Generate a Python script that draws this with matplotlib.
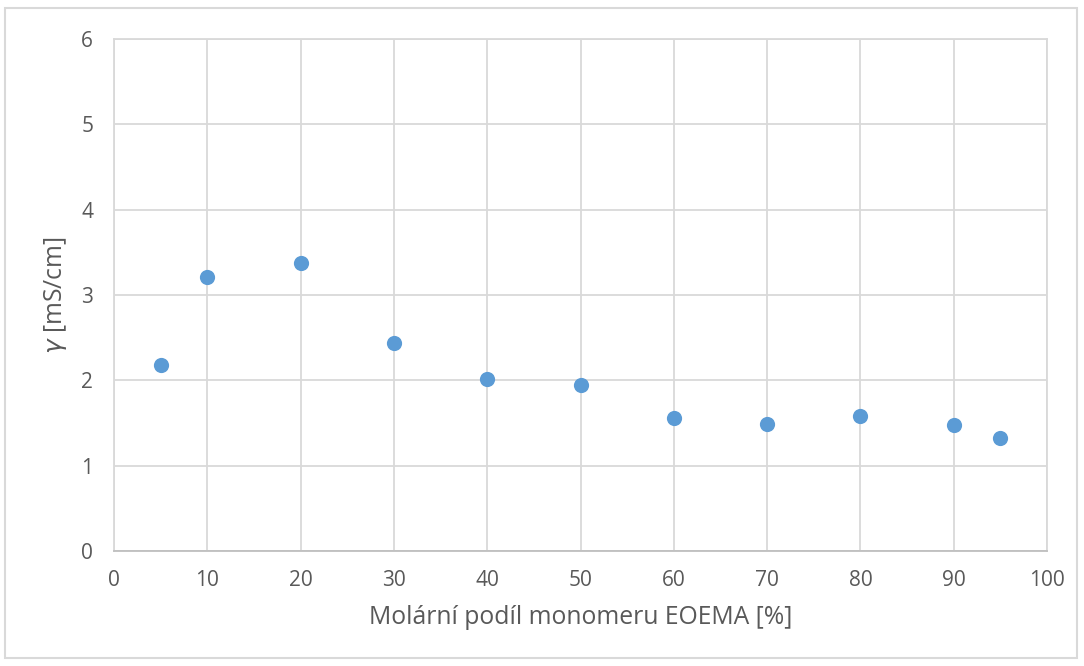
import matplotlib
matplotlib.use("Agg")
import matplotlib.pyplot as plt
from matplotlib.patches import Rectangle

# data
eoema = [5, 10, 20, 30, 40, 50, 60, 70, 80, 90, 95]
gamma = [2.18, 3.21, 3.37, 2.44, 2.01, 1.94, 1.56, 1.49, 1.58, 1.48, 1.33]

x_ticks = list(range(0, 101, 10))
y_ticks = list(range(0, 7))

plt.rcParams['font.family'] = ['Open Sans', 'DejaVu Sans']
txt = '#595959'
grid = '#d9d9d9'

fig = plt.figure(figsize=(10.84, 6.66), dpi=100)
ax = fig.add_axes([114/1084, 1-551/666, (1047-114)/1084, (551-39)/666])

# outer chart border
fig.patches.append(Rectangle((5/1084, 8/666), (1077-5)/1084, (658-8)/666,
                             transform=fig.transFigure, fill=False,
                             edgecolor='#d9d9d9', lw=1.5))

ax.scatter(eoema, gamma, s=120, color='#5b9bd5', zorder=3, linewidths=0)

ax.set_xlim(0, 100)
ax.set_ylim(0, 6)
ax.set_xticks(x_ticks)
ax.set_yticks(y_ticks)
ax.grid(True, color=grid, lw=1.3)
ax.set_axisbelow(True)
for s in ax.spines.values():
    s.set_color(grid)
    s.set_linewidth(1.3)
ax.spines['bottom'].set_color('#bfbfbf')
ax.tick_params(length=0, labelsize=15, colors=txt)
ax.tick_params(axis='x', pad=14)
ax.tick_params(axis='y', pad=15)

ax.set_xlabel('Molární podíl monomeru EOEMA [%]', fontsize=17.8, color=txt, labelpad=10)
ax.set_ylabel(r'$\gamma$ [mS/cm]', fontsize=17.8, color=txt, labelpad=9)

fig.savefig('out.png', dpi=100)
